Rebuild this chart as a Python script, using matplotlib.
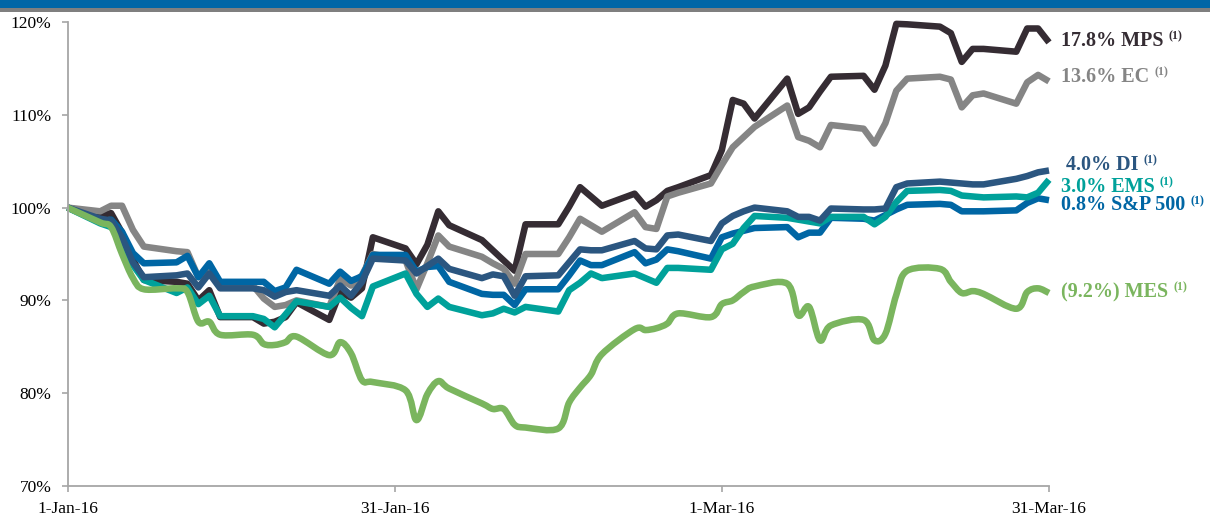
import matplotlib
matplotlib.use("Agg")
import matplotlib.pyplot as plt
import matplotlib.dates as mdates
from matplotlib.patches import Rectangle, PathPatch
from matplotlib.path import Path
import pandas as pd
import numpy as np

# ---------------- data ----------------
dates = (["2016-01-%02d" % d for d in [1, 4, 5, 6, 7, 8, 11, 12, 13, 14, 15, 18, 19, 20, 21, 22, 25, 26, 27, 28, 29]]
         + ["2016-02-%02d" % d for d in [1, 2, 3, 4, 5, 8, 9, 10, 11, 12, 15, 16, 17, 18, 19, 22, 23, 24, 25, 26, 29]]
         + ["2016-03-%02d" % d for d in [1, 2, 3, 4, 7, 8, 9, 10, 11, 14, 15, 16, 17, 18, 21, 22, 23, 24, 25, 28, 29, 30, 31]])

mps = [100, 99.2, 99.4, 97.3, 94.4, 92.2, 92.0, 91.8, 90.0, 91.1, 88.2, 88.2, 87.5, 87.7, 88.2, 89.8, 87.9, 90.9, 90.3, 91.3, 96.8,
       95.6, 93.9, 96.0, 99.6, 98.1, 96.5, 95.4, 94.3, 93.2, 98.2, 98.2, 100.1, 102.2, 101.2, 100.2, 101.5, 100.1, 100.8, 101.8, 102.2, 103.5,
       106.2, 111.6, 111.2, 109.6, 113.9, 110.1, 110.8, 112.5, 114.1, 114.2, 112.7, 115.3, 119.8, 119.75, 119.5, 118.8, 115.7, 117.1, 117.1, 116.8, 119.3, 119.3, 117.8]

ec = [100, 99.6, 100.2, 100.2, 97.6, 95.8, 95.3, 95.2, 92.5, 93.1, 91.6, 91.6, 90.2, 89.3, 89.5, 90.0, 89.3, 92.3, 91.6, 92.7, 95.0,
      94.3, 91.2, 94.0, 97.0, 95.8, 94.7, 94.0, 93.4, 91.8, 95.0, 95.0, 96.8, 98.8, 98.1, 97.4, 99.5, 97.9, 97.7, 101.2, 101.6, 102.6,
      104.6, 106.5, 107.6, 108.7, 111.0, 107.6, 107.2, 106.5, 108.9, 108.5, 106.9, 109.1, 112.6, 113.9, 114.1, 113.8, 110.8, 112.1, 112.3, 111.2, 113.5, 114.3, 113.6]

di = [100, 98.8, 98.6, 96.8, 94.1, 92.5, 92.7, 92.9, 91.4, 92.9, 91.3, 91.3, 91.1, 90.4, 90.9, 91.1, 90.5, 91.6, 90.5, 92.0, 94.5,
      94.3, 92.9, 93.7, 94.5, 93.4, 92.4, 92.8, 92.6, 90.5, 92.6, 92.7, 94.1, 95.5, 95.4, 95.4, 96.4, 95.6, 95.5, 97.0, 97.1, 96.4,
      98.3, 99.1, 99.6, 100.0, 99.6, 99.0, 99.0, 98.6, 99.9, 99.8, 99.8, 99.9, 102.2, 102.6, 102.8, 102.7, 102.6, 102.5, 102.5, 103.1, 103.4, 103.8, 104.0]

ems = [100, 98.3, 97.9, 96.5, 93.8, 92.2, 90.8, 91.4, 89.6, 90.5, 88.3, 88.3, 88.0, 87.1, 88.5, 89.9, 89.3, 90.3, 89.2, 88.3, 91.5,
       92.9, 90.7, 89.3, 90.2, 89.3, 88.4, 88.6, 89.1, 88.7, 89.3, 88.8, 91.1, 91.9, 92.9, 92.4, 92.9, 92.4, 91.9, 93.5, 93.5, 93.3,
       95.5, 96.1, 97.8, 99.1, 98.9, 98.7, 98.5, 98.3, 99.0, 99.0, 98.2, 99.0, 100.6, 101.8, 101.9, 101.8, 101.3, 101.2, 101.1, 101.2, 101.1, 101.6, 103.0]

sp500 = [100, 98.5, 98.7, 97.4, 95.1, 94.0, 94.1, 94.8, 92.5, 94.0, 92.0, 92.0, 92.0, 91.0, 91.4, 93.3, 91.8, 93.1, 92.1, 92.6, 94.9,
         94.9, 93.1, 93.6, 93.7, 92.0, 90.7, 90.6, 90.6, 89.5, 91.2, 91.2, 92.7, 94.3, 93.8, 93.8, 95.2, 94.0, 94.4, 95.5, 95.3, 94.5,
         96.8, 97.2, 97.5, 97.8, 97.9, 96.8, 97.3, 97.3, 98.9, 98.8, 98.6, 99.2, 99.8, 100.3, 100.4, 100.3, 99.6, 99.6, 99.6, 99.7, 100.5, 101.0, 100.8]

mes = [100, 98.4, 97.9, 95.0, 92.4, 91.2, 91.3, 90.9, 87.7, 87.7, 86.3, 86.3, 85.3, 85.2, 85.5, 86.1, 84.1, 85.5, 84.3, 81.4, 81.2,
       80.3, 77.1, 79.9, 81.3, 80.5, 78.9, 78.3, 78.3, 76.6, 76.3, 76.2, 79.0, 80.6, 82.0, 84.2, 86.9, 86.8, 87.0, 87.5, 88.6, 88.2,
       89.6, 90.0, 90.9, 91.5, 91.8, 88.4, 89.3, 85.7, 87.3, 87.9, 85.7, 86.4, 90.6, 93.2, 93.4, 92.0, 90.8, 91.0, 90.7, 89.1, 90.9, 91.3, 90.8]

series_names = ["MPS", "EC", "S&P 500", "EMS", "DI", "MES"]
smoothed = {"MES"}
label_pct = {"MPS": "17.8%", "EC": "13.6%", "DI": "4.0%", "EMS": "3.0%", "S&P 500": "0.8%", "MES": "(9.2%)"}
xtick_dates = ["2016-01-01", "2016-01-31", "2016-03-01", "2016-03-31"]
xtick_labels = ["1-Jan-16", "31-Jan-16", "1-Mar-16", "31-Mar-16"]
ytick_vals = [70, 80, 90, 100, 110, 120]

# ---------------- style ----------------
colors = {"MPS": "#352c33", "EC": "#858585", "DI": "#2b5680",
          "EMS": "#00a19a", "S&P 500": "#0066a4", "MES": "#7ab55e"}
values = {"MPS": mps, "EC": ec, "DI": di, "EMS": ems, "S&P 500": sp500, "MES": mes}
for k, v in values.items():
    assert len(v) == len(dates), (k, len(v))

W, H = 1210, 517
LW = 4.7
fig = plt.figure(figsize=(W / 100, H / 100), dpi=100)
SERIF = ["Liberation Serif", "DejaVu Serif"]

# header band
fig.patches.append(Rectangle((0, 1 - 8.5 / H), 1, 8.5 / H, transform=fig.transFigure,
                             facecolor="#0066a6", edgecolor="none", zorder=0))
fig.patches.append(Rectangle((0, 1 - 11.5 / H), 1, 3 / H, transform=fig.transFigure,
                             facecolor="#7f7f7f", edgecolor="none", zorder=0))

x0, x1, ytop, ybot = 67.5, 1049, 22, 486
ax = fig.add_axes([x0 / W, 1 - ybot / H, (x1 - x0) / W, (ybot - ytop) / H])

xnum = mdates.date2num(pd.to_datetime(dates))


def smooth_path(xs, ys):
    # Bezier path through the data points (Excel-style "smoothed line")
    xs = np.asarray(xs, float)
    ys = np.asarray(ys, float)
    verts = [(xs[0], ys[0])]
    codes = [Path.MOVETO]
    n = len(xs)
    for i in range(n - 1):
        p0 = (xs[max(i - 1, 0)], ys[max(i - 1, 0)])
        p1 = (xs[i], ys[i])
        p2 = (xs[i + 1], ys[i + 1])
        p3 = (xs[min(i + 2, n - 1)], ys[min(i + 2, n - 1)])
        c1 = (p1[0] + (p2[0] - p0[0]) / 6, p1[1] + (p2[1] - p0[1]) / 6)
        c2 = (p2[0] - (p3[0] - p1[0]) / 6, p2[1] - (p3[1] - p1[1]) / 6)
        verts += [c1, c2, p2]
        codes += [Path.CURVE4] * 3
    return Path(verts, codes)


for z, name in enumerate(series_names):
    if name in smoothed:
        patch = PathPatch(smooth_path(xnum, values[name]), facecolor="none",
                          edgecolor=colors[name], lw=LW, joinstyle="round",
                          capstyle="butt", zorder=2 + z * 0.01, clip_on=False)
        ax.add_patch(patch)
    else:
        ax.plot(xnum, values[name], color=colors[name], lw=LW,
                solid_joinstyle="round", solid_capstyle="butt", clip_on=False,
                zorder=2 + z * 0.01)

ax.set_xlim(mdates.date2num(pd.Timestamp("2016-01-01")), mdates.date2num(pd.Timestamp("2016-03-31")))
ax.set_ylim(70, 120)
ax.set_xticks(mdates.date2num(pd.to_datetime(xtick_dates)))
ax.set_xticklabels(xtick_labels)
ax.set_yticks(ytick_vals)
ax.set_yticklabels([f"{v}%" for v in ytick_vals])

for s in ["top", "right"]:
    ax.spines[s].set_visible(False)
for s in ["left", "bottom"]:
    ax.spines[s].set_color("#a6a6a6")
    ax.spines[s].set_linewidth(1.3)
ax.tick_params(axis="both", direction="out", length=4.5, width=1.2, color="#a6a6a6",
               labelsize=12.5, labelcolor="black")
ax.tick_params(axis="y", pad=7)
ax.tick_params(axis="x", pad=6)
for t in ax.get_xticklabels() + ax.get_yticklabels():
    t.set_family(SERIF)

# right-hand labels
label_pos = {"MPS": (1061, 41), "EC": (1061, 77), "DI": (1066, 165),
             "EMS": (1061, 186.5), "S&P 500": (1061, 205.5), "MES": (1061, 292)}
fig.canvas.draw()
renderer = fig.canvas.get_renderer()
for name in ["MPS", "EC", "DI", "EMS", "S&P 500", "MES"]:
    px, py = label_pos[name]
    t = fig.text(px / W, 1 - py / H, f"{label_pct[name]} {name}", color=colors[name],
                 fontsize=14.5, fontweight="bold", family=SERIF, ha="left", va="center")
    bb = t.get_window_extent(renderer=renderer)
    fig.text((bb.x1 + 5) / W, 1 - (py - 4.5) / H, "(1)", color=colors[name],
             fontsize=8.5, fontweight="bold", family=SERIF, ha="left", va="center")

fig.savefig("out.png", dpi=100)
